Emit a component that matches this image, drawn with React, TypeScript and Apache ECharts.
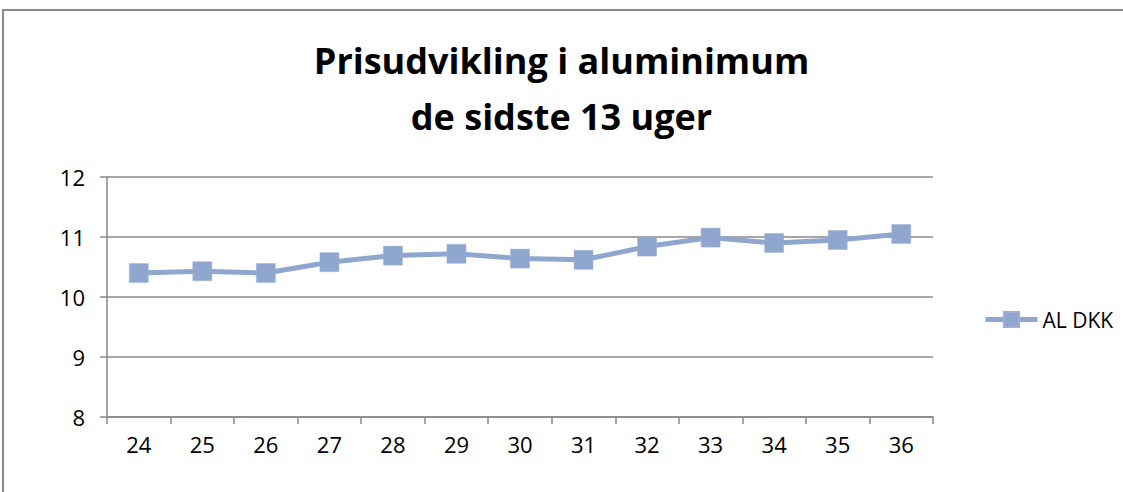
import React, { useEffect, useRef } from "react";
import * as echarts from "echarts";

const titleLines = ["Prisudvikling i aluminimum", "de sidste 13 uger"];
const seriesName = "AL DKK";
const weeks = ["24", "25", "26", "27", "28", "29", "30", "31", "32", "33", "34", "35", "36"];
const prices = [10.4, 10.43, 10.4, 10.58, 10.69, 10.72, 10.64, 10.62, 10.84, 10.99, 10.9, 10.95, 11.05];
const yMin = 8;
const yMax = 12;
const yStep = 1;

const FONT = "'Open Sans', 'DejaVu Sans', sans-serif";
const LINE_COLOR = "#8FA6CF";
const GRID_COLOR = "#888888";

export default function App() {
  const ref = useRef<HTMLDivElement>(null);

  useEffect(() => {
    if (!ref.current) return;
    const chart = echarts.init(ref.current, undefined, { renderer: "svg" });
    chart.setOption({
      animation: false,
      backgroundColor: "#ffffff",
      legend: {
        data: [seriesName],
        left: 983,
        top: 309,
        padding: 0,
        itemWidth: 52,
        itemHeight: 19,
        itemGap: 6,
        lineStyle: { width: 5, color: LINE_COLOR },
        textStyle: { fontFamily: FONT, fontSize: 21, color: "#000000" },
      },
      grid: { left: 107, right: 190, top: 177, bottom: 75 },
      xAxis: {
        type: "category",
        data: weeks,
        boundaryGap: true,
        axisLine: { show: true, lineStyle: { color: GRID_COLOR, width: 1.5 } },
        axisTick: { show: true, length: 7, interval: 0, lineStyle: { color: GRID_COLOR, width: 1.5 } },
        axisLabel: { fontFamily: FONT, fontSize: 22, color: "#000000", margin: 16, interval: 0 },
        splitLine: { show: false },
      },
      yAxis: {
        type: "value",
        min: yMin,
        max: yMax,
        interval: yStep,
        axisLine: { show: true, lineStyle: { color: GRID_COLOR, width: 1.5 } },
        axisTick: { show: true, length: 7, lineStyle: { color: GRID_COLOR, width: 1.5 } },
        axisLabel: { fontFamily: FONT, fontSize: 22, color: "#000000", margin: 22 },
        splitLine: { show: true, lineStyle: { color: GRID_COLOR, width: 1.5 } },
      },
      series: [
        {
          name: seriesName,
          type: "line",
          data: prices,
          symbol: "rect",
          symbolSize: 19,
          showSymbol: true,
          lineStyle: { color: LINE_COLOR, width: 5 },
          itemStyle: { color: LINE_COLOR, borderColor: "#9DB1D6", borderWidth: 0.5 },
        },
      ],
      graphic: [
        {
          type: "text",
          left: "center",
          top: 42,
          style: {
            text: titleLines[0],
            fontFamily: FONT,
            fontSize: 36,
            fontWeight: "bold",
            fill: "#000000",
          },
          silent: true,
        },
        {
          type: "text",
          left: "center",
          top: 98,
          style: {
            text: titleLines[1],
            fontFamily: FONT,
            fontSize: 36,
            fontWeight: "bold",
            fill: "#000000",
          },
          silent: true,
        },
        {
          type: "line",
          shape: { x1: 3, y1: 10, x2: 3, y2: 492 },
          style: { stroke: GRID_COLOR, lineWidth: 2 },
          silent: true,
        },
        {
          type: "line",
          shape: { x1: 2, y1: 10, x2: 1123, y2: 10 },
          style: { stroke: GRID_COLOR, lineWidth: 2 },
          silent: true,
        },
      ],
    });
    return () => chart.dispose();
  }, []);

  return (
    <div
      ref={ref}
      style={{ position: "fixed", left: 0, top: 0, width: 1123, height: 492, background: "#fff" }}
    />
  );
}
